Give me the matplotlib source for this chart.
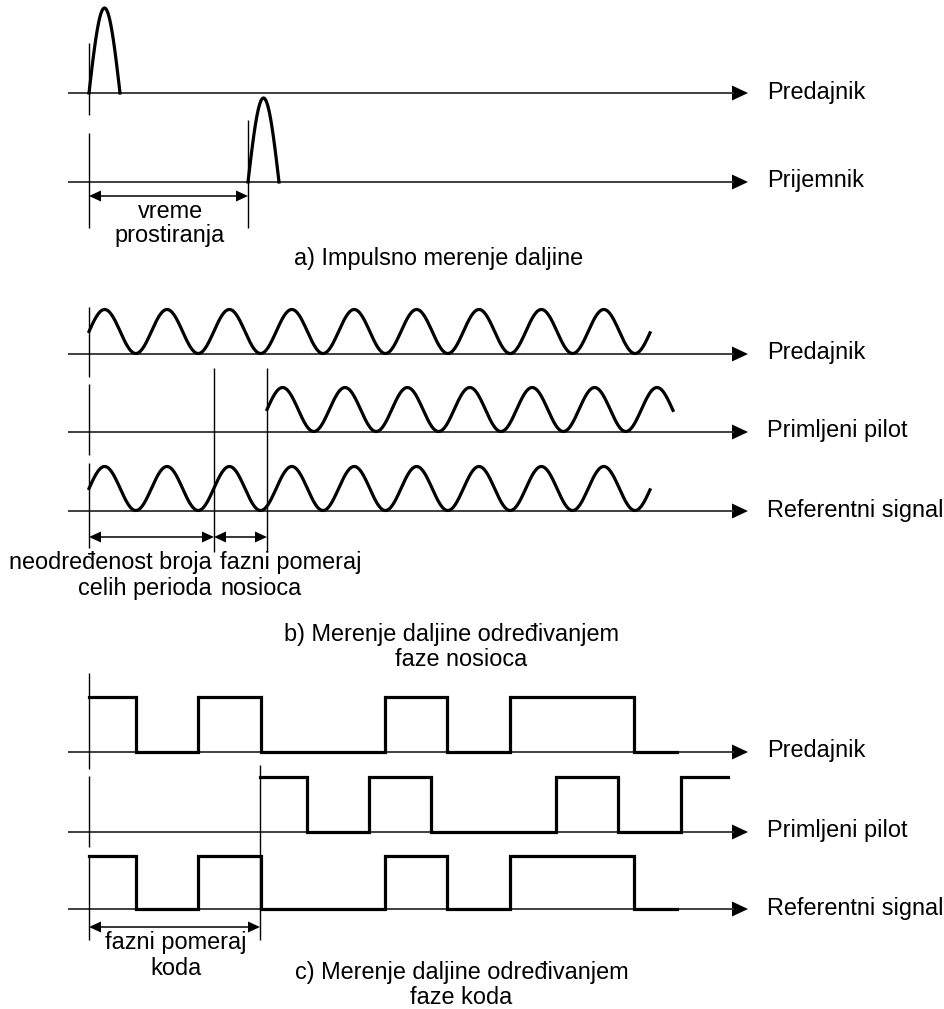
import numpy as np
import matplotlib.pyplot as plt
from matplotlib.patches import Polygon

plt.rcParams['font.family'] = ['Liberation Sans', 'DejaVu Sans']

# drawing is laid out in the pixel units of the original sketch
AXIS_X0, AXIS_X1 = 68, 748
LABEL_X = 767
FS = 16.9

# a) Impulsno merenje daljine
names_a = ['Predajnik', 'Prijemnik']
base_a = [93, 182]
pulse_t = [89, 248]          # trenutak slanja / prijema
pulse_w = 31
pulse_h = [85, 84]

# b) faza nosioca
names_b = ['Predajnik', 'Primljeni pilot', 'Referentni signal']
base_b = [354, 432, 511]
sine_t0 = [89, 267, 89]
sine_t1 = [650, 673, 650]
period = 62.4
amp = 22

# c) faza koda
names_c = ['Predajnik', 'Primljeni pilot', 'Referentni signal']
base_c = [752, 832, 909]
code = [1, 0, 1, 0, 0, 1, 0, 1, 1, 0]
chip = 62.3
code_origin = [73.7, 244.4, 73.7]
code_t0 = [89, 260, 89]
code_t1 = [677, 728, 677]
code_h = [55, 55, 53]

fig = plt.figure(figsize=(9.44, 10.09), dpi=100)
ax = fig.add_axes([0, 0, 1, 1])
ax.set_xlim(0, 944)
ax.set_ylim(1009, 0)
ax.axis('off')


def axis_arrow(y, name):
    ax.plot([AXIS_X0, AXIS_X1 - 14], [y, y], color='#303030', lw=1.3,
            solid_capstyle='butt')
    ax.add_patch(Polygon([[AXIS_X1 - 16, y - 7.5], [AXIS_X1, y], [AXIS_X1 - 16, y + 7.5]],
                         closed=True, facecolor='black', lw=0))
    ax.text(LABEL_X, y - 1, name, fontsize=FS, va='center', ha='left')


def dim_arrow(x0, x1, y):
    hl, hw = 12, 5.5
    ax.plot([x0 + hl - 1, x1 - hl + 1], [y, y], color='black', lw=1.1)
    ax.add_patch(Polygon([[x0, y], [x0 + hl, y - hw], [x0 + hl, y + hw]],
                         facecolor='black', lw=0))
    ax.add_patch(Polygon([[x1, y], [x1 - hl, y - hw], [x1 - hl, y + hw]],
                         facecolor='black', lw=0))


def vline(x, segs):
    for y0, y1 in segs:
        ax.plot([x, x], [y0, y1], color='black', lw=1.0, solid_capstyle='butt')


def code_wave(origin, t0, t1, base, h):
    edges = origin + chip * np.arange(len(code) + 1)
    inner = edges[(edges > t0) & (edges < t1)]
    xs = np.concatenate([[t0], inner, [t1]])
    mids = (xs[:-1] + xs[1:]) / 2
    idx = np.floor((mids - origin) / chip).astype(int)
    ys = base - h * np.array(code)[idx]
    ys = np.append(ys, ys[-1])
    ax.step(xs, ys, where='post', color='black', lw=2.3, solid_joinstyle='miter')


# ---- a) ----
for y, name in zip(base_a, names_a):
    axis_arrow(y, name)
for t, h, y in zip(pulse_t, pulse_h, base_a):
    x = np.linspace(t, t + pulse_w, 100)
    ax.plot(x, y - h * np.sin(np.pi * (x - t) / pulse_w), color='black', lw=2.3)
vline(89, [(43, 115), (133, 228)])
vline(248, [(120, 228)])
dim_arrow(89, 248, 196)
ax.text(170, 211, 'vreme', fontsize=FS, ha='center', va='center')
ax.text(170, 235.5, 'prostiranja', fontsize=FS, ha='center', va='center')
ax.text(439, 258, 'a) Impulsno merenje daljine', fontsize=FS, ha='center', va='center')

# ---- b) ----
for y, name in zip(base_b, names_b):
    axis_arrow(y, name)
for t0, t1, y in zip(sine_t0, sine_t1, base_b):
    x = np.linspace(t0, t1, 600)
    ax.plot(x, (y - 22.5) - amp * np.sin(2 * np.pi * (x - t0) / period),
            color='black', lw=2.3)
vline(89, [(307, 377), (384, 455), (463, 548)])
vline(214, [(368, 552)])
vline(267, [(368, 552)])
dim_arrow(89, 214, 537)
dim_arrow(214, 267, 537)
ax.text(212, 562, 'neodređenost broja', fontsize=FS, ha='right', va='center')
ax.text(212, 588.5, 'celih perioda', fontsize=FS, ha='right', va='center')
ax.text(220, 562, 'fazni pomeraj', fontsize=FS, ha='left', va='center')
ax.text(220, 588.5, 'nosioca', fontsize=FS, ha='left', va='center')
ax.text(451, 634, 'b) Merenje daljine određivanjem', fontsize=FS, ha='center', va='center')
ax.text(461, 659, 'faze nosioca', fontsize=FS, ha='center', va='center')

# ---- c) ----
for y, name in zip(base_c, names_c):
    axis_arrow(y, name)
for o, t0, t1, y, h in zip(code_origin, code_t0, code_t1, base_c, code_h):
    code_wave(o, t0, t1, y, h)
vline(89, [(673, 769), (776, 847), (856, 940)])
vline(260, [(765, 940)])
dim_arrow(89, 260, 927)
ax.text(175.5, 943, 'fazni pomeraj', fontsize=FS, ha='center', va='center')
ax.text(175.5, 968.5, 'koda', fontsize=FS, ha='center', va='center')
ax.text(461.5, 972, 'c) Merenje daljine određivanjem', fontsize=FS, ha='center', va='center')
ax.text(461.5, 997, 'faze koda', fontsize=FS, ha='center', va='center')

fig.savefig('out.png', dpi=100)
